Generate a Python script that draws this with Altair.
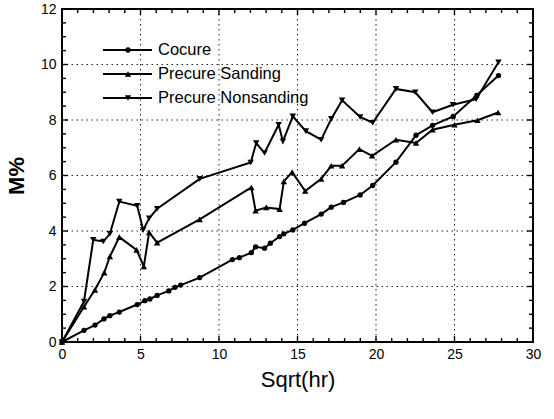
import altair as alt
import pandas as pd

# ---- data ----
cocure_x = [0, 1.40, 2.10, 2.67, 3.05, 3.65, 4.79, 5.28, 5.60, 6.06, 6.80, 7.20, 7.56, 8.77,
            10.85, 11.30, 12.06, 12.33, 12.90, 13.27, 13.86, 14.13, 14.70, 15.45, 16.51, 17.15,
            17.93, 18.99, 19.79, 21.27, 22.55, 23.60, 24.92, 26.42, 27.80]
cocure_y = [0, 0.42, 0.61, 0.83, 0.95, 1.08, 1.35, 1.49, 1.55, 1.68, 1.84, 1.97, 2.05, 2.32,
            2.97, 3.04, 3.22, 3.43, 3.38, 3.56, 3.80, 3.90, 4.04, 4.28, 4.61, 4.86,
            5.03, 5.30, 5.64, 6.48, 7.45, 7.81, 8.13, 8.89, 9.60]

sanding_x = [0, 1.40, 2.10, 2.69, 3.05, 3.65, 4.75, 5.21, 5.55, 6.06, 8.77, 12.06, 12.33, 13.01,
             13.86, 14.13, 14.66, 15.49, 16.51, 17.15, 17.84, 18.94, 19.75, 21.27, 22.55, 23.60,
             25.00, 26.46, 27.78]
sanding_y = [0, 1.27, 1.88, 2.50, 3.08, 3.78, 3.32, 2.72, 3.95, 3.58, 4.42, 5.57, 4.73, 4.85,
             4.79, 5.79, 6.12, 5.44, 5.88, 6.35, 6.35, 6.95, 6.71, 7.29, 7.17, 7.65,
             7.83, 7.99, 8.27]

nons_x = [0, 1.40, 1.99, 2.63, 3.05, 3.65, 4.79, 5.17, 5.55, 6.06, 8.77, 12.02, 12.37, 12.90,
          13.80, 14.07, 14.70, 15.53, 16.51, 17.15, 17.84, 18.99, 19.79, 21.27, 22.50, 23.60,
          24.90, 26.38, 27.80]
nons_y = [0, 1.46, 3.68, 3.62, 3.90, 5.06, 4.91, 4.04, 4.46, 4.80, 5.88, 6.47, 7.17, 6.81,
          7.83, 7.23, 8.13, 7.60, 7.29, 8.04, 8.71, 8.11, 7.90, 9.12, 9.00, 8.28,
          8.55, 8.75, 10.08]

series_names = ["Cocure", "Precure Sanding", "Precure Nonsanding"]
series_shapes = ["circle", "triangle-up", "triangle-down"]

x_major = [0, 5, 10, 15, 20, 25, 30]
x_minor = [v for v in range(0, 31) if v % 5 != 0]
y_major = [0, 2, 4, 6, 8, 10, 12]
y_minor = [v / 2 for v in range(0, 25) if v % 4 != 0]

W, H = 471, 333
FONT = "Liberation Sans"

xscale = alt.Scale(domain=[0, 30], nice=False, zero=False)
yscale = alt.Scale(domain=[0, 12], nice=False, zero=False)

xaxis = alt.Axis(values=x_major, ticks=False, domain=False, grid=False, labelFontSize=14,
                 labelFont=FONT, labelColor="black", labelPadding=5, title="Sqrt(hr)",
                 titleFont=FONT, titleFontSize=22, titleFontWeight="normal", titleColor="black",
                 titlePadding=8, labelFlush=False)
yaxis = alt.Axis(values=y_major, ticks=False, domain=False, grid=False, labelFontSize=14,
                 labelFont=FONT, labelColor="black", labelPadding=6, title="M%",
                 titleFont=FONT, titleFontSize=22, titleFontWeight="bold", titleColor="black",
                 titlePadding=12, labelFlush=False)


def X(f):
    return alt.X(f, scale=xscale, axis=xaxis)


def Y(f):
    return alt.Y(f, scale=yscale, axis=yaxis)


layers = []

# grid lines (dotted) at major ticks
gx = pd.DataFrame({"x": [5, 10, 15, 20, 25]})
gy = pd.DataFrame({"y": [2, 4, 6, 8, 10]})
layers.append(alt.Chart(gx).mark_rule(color="#222", strokeWidth=1, strokeDash=[1.5, 3.5]).encode(
    x=X("x:Q")))
layers.append(alt.Chart(gy).mark_rule(color="#222", strokeWidth=1, strokeDash=[1.5, 3.5]).encode(
    y=Y("y:Q")))


# inward ticks on all four sides
def xticks(vals, L):
    d = pd.DataFrame({"x": vals})
    bot = alt.Chart(d).mark_rule(color="black", strokeWidth=1.4).encode(
        x=X("x:Q"), y=alt.value(H), y2=alt.value(H - L))
    top = alt.Chart(d).mark_rule(color="black", strokeWidth=1.4).encode(
        x=X("x:Q"), y=alt.value(0), y2=alt.value(L))
    return [bot, top]


def yticks(vals, L):
    d = pd.DataFrame({"y": vals})
    lef = alt.Chart(d).mark_rule(color="black", strokeWidth=1.4).encode(
        y=Y("y:Q"), x=alt.value(0), x2=alt.value(L))
    rig = alt.Chart(d).mark_rule(color="black", strokeWidth=1.4).encode(
        y=Y("y:Q"), x=alt.value(W), x2=alt.value(W - L))
    return [lef, rig]


layers += xticks(x_major, 6) + xticks(x_minor, 4) + yticks(y_major, 6) + yticks(y_minor, 4)

# series
all_x = [cocure_x, sanding_x, nons_x]
all_y = [cocure_y, sanding_y, nons_y]
sizes = [28, 42, 42]
for name, shp, xs, ys, sz in zip(series_names, series_shapes, all_x, all_y, sizes):
    df = pd.DataFrame({"x": xs, "y": ys, "s": name})
    base = alt.Chart(df).encode(x=X("x:Q"), y=Y("y:Q"))
    layers.append(base.mark_line(color="black", strokeWidth=2))
    layers.append(base.mark_point(filled=True, color="black", shape=shp, size=sz, opacity=1))

# legend (inside, top-left)
for i, (name, shp, sz) in enumerate(zip(series_names, series_shapes, sizes)):
    ly = 41 + 24 * i
    d = pd.DataFrame({"s": [name]})
    layers.append(alt.Chart(d).mark_rule(color="black", strokeWidth=2).encode(
        x=alt.value(41), x2=alt.value(90), y=alt.value(ly)))
    layers.append(alt.Chart(d).mark_point(filled=True, color="black", shape=shp, size=sz, opacity=1).encode(
        x=alt.value(66), y=alt.value(ly)))
    layers.append(alt.Chart(d).mark_text(align="left", baseline="middle", font=FONT, fontSize=16.5,
                                         color="black").encode(
        x=alt.value(96), y=alt.value(ly), text="s:N"))

chart = alt.layer(*layers).properties(
    width=W, height=H,
    autosize=alt.AutoSizeParams(type="none"),
    padding={"left": 62, "top": 9, "right": 21, "bottom": 77},
    background="white",
).configure_view(stroke="black", strokeWidth=2)

chart.save("out.html", embed_options={"renderer": "svg", "actions": False})
